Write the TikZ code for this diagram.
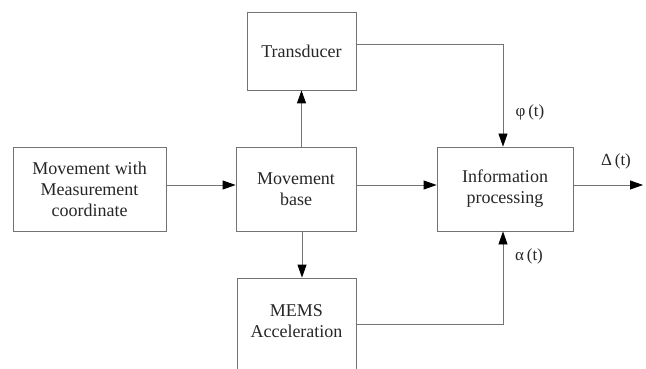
\documentclass[tikz,border=0pt]{standalone}
\usepackage{fontspec}
\setmainfont{Liberation Serif}
\usetikzlibrary{calc,arrows.meta,positioning}

\begin{document}
\begin{tikzpicture}[x=1pt,y=-1pt,
    box/.style={draw=black!55,line width=0.8pt,align=center,inner sep=0pt,
                font=\fontsize{18}{21}\selectfont,text=black!85},
    sig/.style={draw=black!55,line width=0.8pt,
                -{Triangle[length=13pt,width=9pt,fill=black,color=black]}},
    lbl/.style={font=\fontsize{17}{20}\selectfont,text=black!85}]
      \useasboundingbox (0,0) rectangle (646,369);

      \node [box,minimum width=153pt,minimum height=84pt] (move) at (89.5,189)
            {Movement with\\Measurement\\coordinate};
      \node [box,minimum width=120pt,minimum height=84pt] (base) at (296,189)
            {Movement\\base};
      \node [box,minimum width=109pt,minimum height=78pt] (trans) at (301.5,51)
            {Transducer};
      \node [box,minimum width=136pt,minimum height=84pt] (info) at (505,189)
            {Information\\processing};
      % open at the bottom edge
      \node [box,minimum width=119pt,minimum height=122pt] (mems) at (296.5,339) {};
      \node [box,draw=none] (memstext) at (296.5,321) {MEMS\\Acceleration};

      \coordinate (out) at (643,185);

      \draw [sig] ([yshift=4pt]move.east) -- ([yshift=4pt]base.west);
      \draw [sig] ([yshift=4pt]base.east) -- ([yshift=4pt]info.west);
      \draw [sig] ([yshift=4pt]info.east) -- (out);
      \draw [sig] (base.north -| trans.south) -- (trans.south);
      \draw [sig] ([xshift=6pt]base.south) -- ([xshift=6pt]base.south |- mems.north);

      \draw [sig] ([yshift=7pt]trans.east) -| ([xshift=-2pt]info.north);
      \draw [sig] ([yshift=15pt]mems.east) -| ([xshift=-2pt]info.south);

      \node [lbl] (phi) at (530,112) {φ\,(t)};
      \node [lbl] (alpha) at (529,256) {α\,(t)};
      \node [lbl] (delta) at (616,161) {Δ\,(t)};
\end{tikzpicture}
\end{document}
